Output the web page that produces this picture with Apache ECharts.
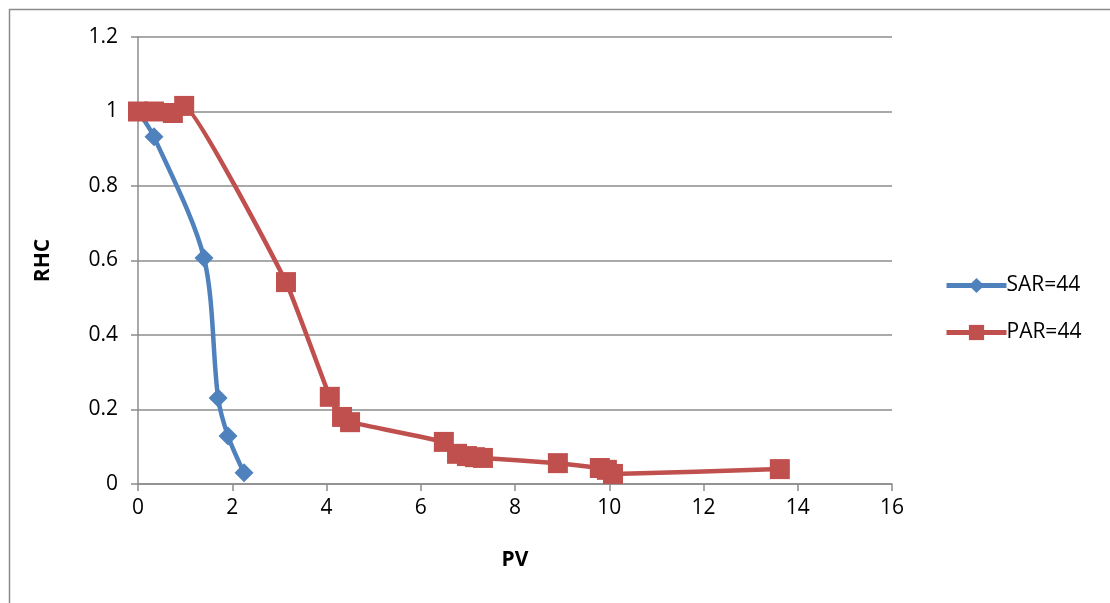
<!DOCTYPE html>
<html>
<head>
<meta charset="utf-8">
<script src="https://cdn.jsdelivr.net/npm/echarts@6/dist/echarts.min.js"></script>
<style>
html,body{margin:0;padding:0;background:#fff;}
#c{width:1110px;height:603px;}
</style>
</head>
<body>
<div id="c"></div>
<script>
const sarPV  = [0, 0.34, 1.40, 1.70, 1.91, 2.25];
const sarRHC = [1.0, 0.932, 0.607, 0.231, 0.129, 0.030];
const parPV  = [0, 0.34, 0.74, 0.98, 3.14, 4.07, 4.33, 4.50, 6.49, 6.77, 6.98, 7.15, 7.32, 8.91, 9.80, 9.95, 10.08, 13.62];
const parRHC = [1.0, 1.0, 0.996, 1.015, 0.542, 0.234, 0.180, 0.166, 0.113, 0.081, 0.075, 0.072, 0.070, 0.056, 0.043, 0.038, 0.027, 0.040];
const seriesNames = ['SAR=44', 'PAR=44'];
const xTitle = 'PV';
const yTitle = 'RHC';

const zip = (a, b) => a.map((v, i) => [v, b[i]]);
const font = '"Open Sans", Lato, sans-serif';
const chart = echarts.init(document.getElementById('c'), null, {renderer: 'canvas'});
chart.setOption({
  animation: false,
  backgroundColor: '#fff',
  graphic: [{
    type: 'rect', left: 7, top: 7, silent: true,
    shape: {width: 1200, height: 700},
    style: {fill: 'none', stroke: '#8c8c8c', lineWidth: 1.5}
  }],
  grid: {left: 138, right: 218, top: 37, bottom: 119, containLabel: false},
  xAxis: {
    type: 'value', min: 0, max: 16, interval: 2,
    name: xTitle, nameLocation: 'middle', nameGap: 66,
    nameTextStyle: {fontFamily: font, fontSize: 21, fontWeight: 'bold', color: '#000'},
    axisLine: {show: true, onZero: false, lineStyle: {color: '#8c8c8c', width: 1.5}},
    axisTick: {show: true, length: 7, lineStyle: {color: '#8c8c8c', width: 1.5}},
    axisLabel: {fontFamily: font, fontSize: 21, color: '#000', margin: 14},
    splitLine: {show: false}
  },
  yAxis: {
    type: 'value', min: 0, max: 1.2, interval: 0.2,
    name: yTitle, nameLocation: 'middle', nameGap: 84, nameRotate: 90,
    nameTextStyle: {fontFamily: font, fontSize: 21, fontWeight: 'bold', color: '#000'},
    axisLine: {show: true, lineStyle: {color: '#8c8c8c', width: 1.5}},
    axisTick: {show: true, length: 7, lineStyle: {color: '#8c8c8c', width: 1.5}},
    axisLabel: {fontFamily: font, fontSize: 21, color: '#000', margin: 20,
      formatter: v => String(Math.round(v * 10) / 10)},
    splitLine: {show: true, lineStyle: {color: '#8c8c8c', width: 1.5}}
  },
  legend: {
    orient: 'vertical', left: 939, top: 270, itemGap: 26,
    itemWidth: 60, itemHeight: 19,
    lineStyle: {width: 5},
    textStyle: {fontFamily: font, fontSize: 21, color: '#000', padding: [0, 0, 0, -5]},
    data: seriesNames
  },
  series: [
    {
      name: seriesNames[0], type: 'line', smooth: 0.3,
      data: zip(sarPV, sarRHC),
      symbol: 'diamond', symbolSize: 19,
      lineStyle: {color: '#4F81BD', width: 4.5},
      itemStyle: {color: '#4F81BD'}
    },
    {
      name: seriesNames[1], type: 'line', smooth: 0.1,
      data: zip(parPV, parRHC),
      symbol: 'rect', symbolSize: 20,
      lineStyle: {color: '#C0504D', width: 4.5},
      itemStyle: {color: '#C0504D'}
    }
  ]
});
</script>
</body>
</html>
